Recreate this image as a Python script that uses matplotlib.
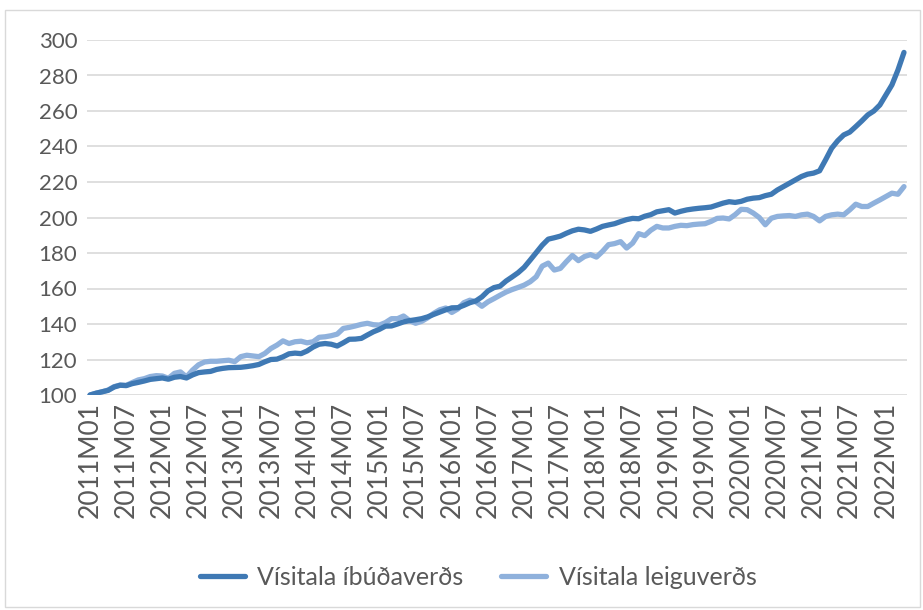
import matplotlib
matplotlib.use("Agg")
import matplotlib.pyplot as plt
from matplotlib.patches import Rectangle

# Vísitölur, 2011M01 = 100
ibudaverd = [
    100.0, 101.0, 101.8, 102.6, 104.5, 105.5, 105.3, 106.4, 107.1, 107.9, 108.8, 109.2,
    109.6, 108.9, 110.0, 110.4, 109.6, 111.3, 112.6, 113.0, 113.3, 114.4, 115.0, 115.4,
    115.5, 115.6, 116.0, 116.5, 117.2, 118.7, 120.0, 120.2, 121.5, 123.2, 123.6, 123.3,
    124.8, 127.0, 128.6, 129.0, 128.6, 127.6, 129.4, 131.4, 131.5, 131.9, 133.8, 135.6,
    137.0, 138.8, 138.9, 140.0, 141.2, 141.9, 142.4, 143.0, 144.0, 145.4, 146.7, 148.0,
    149.1, 149.2, 150.5, 152.0, 153.0, 155.3, 158.6, 160.5, 161.3, 164.2, 166.5, 168.9,
    171.9, 176.0, 180.2, 184.4, 187.8, 188.6, 189.5, 191.1, 192.5, 193.4, 193.0, 192.2,
    193.5, 195.0, 195.8, 196.5, 197.7, 198.8, 199.5, 199.3, 200.7, 201.6, 203.2, 203.8,
    204.4, 202.5, 203.5, 204.3, 204.8, 205.2, 205.5, 205.9, 207.0, 208.1, 208.9, 208.5,
    209.1, 210.3, 210.9, 211.2, 212.3, 213.1, 215.5, 217.4, 219.3, 221.2, 223.1, 224.4,
    225.0, 226.3, 232.5, 239.0, 243.2, 246.5, 248.1, 251.2, 254.4, 257.8, 260.0, 263.4,
    269.0, 274.7, 283.1, 293.0,
]
leiguverd = [
    100.0, 101.0, 101.8, 102.8, 104.7, 105.6, 105.4, 107.0, 108.5, 109.2, 110.4, 110.9,
    110.7, 109.4, 112.2, 113.0, 110.2, 114.0, 117.0, 118.6, 119.0, 119.0, 119.3, 119.6,
    118.8, 121.6, 122.4, 122.0, 121.6, 123.4, 126.2, 128.1, 130.5, 129.0, 130.0, 130.3,
    129.4, 130.0, 132.5, 132.8, 133.4, 134.3, 137.5, 138.1, 138.9, 139.8, 140.4, 139.6,
    139.4, 140.8, 143.0, 143.0, 144.5, 141.9, 140.4, 141.5, 143.5, 146.0, 148.0, 149.0,
    146.5, 148.5, 152.0, 153.4, 152.5, 150.0, 152.5, 154.3, 156.2, 158.0, 159.4, 160.6,
    161.9, 163.8, 166.6, 172.6, 174.3, 170.4, 171.3, 175.1, 178.6, 175.7, 178.0, 179.1,
    177.7, 180.9, 184.7, 185.3, 186.4, 182.8, 185.6, 190.9, 189.8, 192.8, 195.0, 194.1,
    194.1, 195.0, 195.6, 195.4, 196.0, 196.3, 196.5, 197.8, 199.5, 199.7, 199.2, 201.6,
    204.6, 204.4, 202.5, 200.0, 195.9, 199.6, 200.6, 200.9, 201.1, 200.6, 201.5, 201.9,
    200.6, 198.1, 200.6, 201.5, 201.9, 201.5, 204.3, 207.5, 206.2, 206.2, 208.1, 209.9,
    211.8, 213.7, 213.1, 217.4,
]
manudir = [f"{2011 + i // 12}M{i % 12 + 1:02d}" for i in range(len(ibudaverd))]

plt.rcParams["font.family"] = ["Lato", "DejaVu Sans"]
texti = "#595959"

fig = plt.figure(figsize=(9.23, 6.10), dpi=100)
fig.patches.append(Rectangle((5 / 923, 3 / 610), 915 / 923, 597 / 610, transform=fig.transFigure,
                             fill=False, edgecolor="#d9d9d9", linewidth=1.0))
ax = fig.add_axes([87 / 923, 1 - 395 / 610, 820 / 923, 355 / 610])

x = list(range(len(ibudaverd)))
ax.plot(x, ibudaverd, color="#3f79b4", linewidth=3.8, solid_capstyle="round",
        solid_joinstyle="round", label="Vísitala íbúðaverðs", zorder=3)
ax.plot(x, leiguverd, color="#8fb1dc", linewidth=3.8, solid_capstyle="round",
        solid_joinstyle="round", label="Vísitala leiguverðs", zorder=2)

ax.set_xlim(-0.5, len(x) - 0.5)
ax.set_ylim(100, 300)
ax.set_yticks(range(100, 301, 20))
ax.set_xticks(x[::6])
ax.set_xticklabels(manudir[::6], rotation=90)
ax.tick_params(length=0, labelcolor=texti)
ax.tick_params(axis="y", labelsize=16, pad=7)
ax.tick_params(axis="x", labelsize=19, pad=5)
ax.grid(axis="y", color="#d9d9d9", linewidth=1.2)
ax.set_axisbelow(True)
for s in ax.spines.values():
    s.set_visible(False)

fig.legend(loc="center", bbox_to_anchor=(0.518, 0.054), ncol=2, frameon=False,
           fontsize=18, labelcolor=texti, handlelength=1.8, columnspacing=1.5,
           handletextpad=0.5)

fig.savefig("out.png", dpi=100)
